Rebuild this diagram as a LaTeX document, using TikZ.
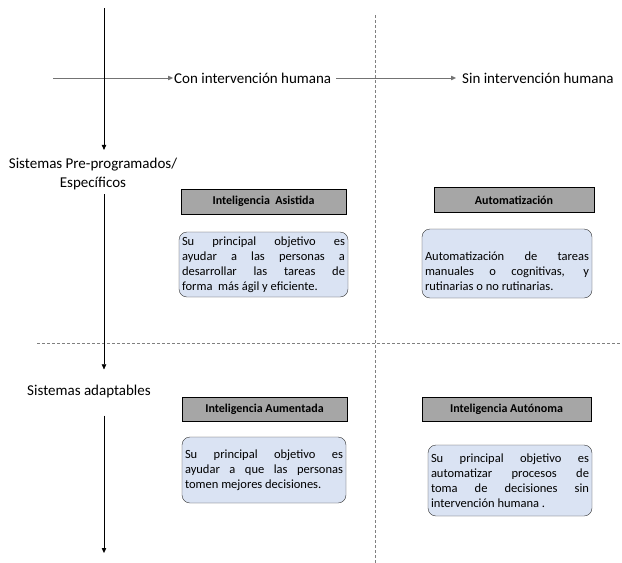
\documentclass[tikz,border=0pt]{standalone}
\usepackage{fontspec}
\setmainfont{Carlito}
\usetikzlibrary{arrows.meta,positioning}
\definecolor{notefill}{RGB}{218,227,243}
\definecolor{headfill}{RGB}{166,166,166}

\begin{document}
\begin{tikzpicture}[x=1pt,y=-1pt,>={Triangle[length=5pt,width=4.5pt]},
  axislabel/.style={font=\fontsize{15}{19}\selectfont,align=center,inner sep=1pt},
  headbox/.style={draw,fill=headfill,minimum height=25pt,inner sep=2pt,
    font=\bfseries\fontsize{12}{14}\selectfont},
  notebox/.style={draw=black!80,rounded corners=8pt,fill=notefill,align=justify,
    inner xsep=3pt,inner ysep=3pt,font=\fontsize{12.5}{15}\selectfont},
  divider/.style={gray,dash pattern=on 3pt off 2pt,line width=0.5pt}]
  \useasboundingbox (0,0) rectangle (622,563);

  % cuadrantes
  \draw[divider] (375,15) -- (375,563);
  \draw[divider] (37,343) -- (622,343);

  % ejes
  \coordinate (vtop) at (104,8);
  \coordinate (vbot) at (104,553);
  \coordinate (hstart) at (53,78);
  \node[axislabel,anchor=west] (con) at (173,78) {Con intervención humana};
  \node[axislabel,anchor=west] (sin) at (461,78) {Sin intervención humana};
  \node[axislabel] (pre) at (93,174) {Sistemas Pre-programados/\\Específicos};
  \node[axislabel] (adapt) at (89,391) {Sistemas adaptables};

  \draw[->,black!55] (hstart) -- (con.west);
  \draw[->,black!55,shorten <=4pt,shorten >=5pt] (con.east) -- (sin.west);
  \draw[->,shorten >=7pt] (vtop) -- (pre.north -| vtop);
  \draw[->,shorten <=3pt,shorten >=14pt] (pre.south -| vtop) -- (adapt.north -| vtop);
  \draw[->,shorten <=17pt] (adapt.south -| vtop) -- (vbot);

  % cajas
  \node[headbox,minimum width=165pt] (asis) at (263.5,201.5) {Inteligencia\ \ Asistida};
  \node[notebox,text width=163pt,minimum height=65pt] (asisnote) at (263.5,264.5)
    {Su principal objetivo es\linebreak ayudar a las personas a\linebreak
     desarrollar las tareas de\linebreak forma\ \ más ágil y eficiente.};

  \node[headbox,minimum width=160pt] (auto) at (514,200) {Automatización};
  \node[notebox,text width=164pt,text height=24pt,minimum height=69pt]
    (autonote) at (507,263.5)
    {Automatización de tareas\linebreak manuales o cognitivas, y\linebreak
     rutinarias o no rutinarias.};

  \node[headbox,minimum width=165pt,minimum height=24pt] (aum) at (264.5,409) {Inteligencia Aumentada};
  \node[notebox,text width=158pt,minimum height=66pt] (aumnote) at (264,470)
    {Su principal objetivo es\linebreak ayudar a que las personas\linebreak
     tomen mejores decisiones.};

  \node[headbox,minimum width=169pt,minimum height=24pt] (auton) at (506.5,409) {Inteligencia Autónoma};
  \node[notebox,text width=158pt,minimum height=71pt] (autonnote) at (510,480.5)
    {Su principal objetivo es\linebreak automatizar procesos de\linebreak
     toma de decisiones sin\linebreak intervención humana~.};
\end{tikzpicture}
\end{document}
